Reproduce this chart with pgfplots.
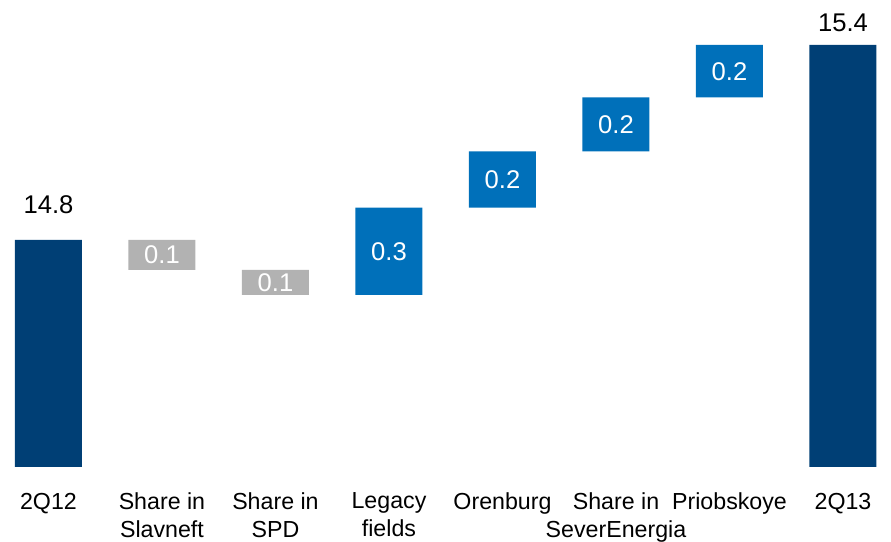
\documentclass[border=0pt]{standalone}
\usepackage{pgfplots}
\pgfplotsset{compat=1.18}
\usepackage{fontspec}
\setmainfont{Liberation Sans}
\definecolor{darkbar}{RGB}{0,63,117}
\definecolor{bluebar}{RGB}{0,112,186}
\definecolor{graybar}{RGB}{178,178,178}
\tikzset{vallab/.style={font=\fontsize{12.8bp}{14bp}\selectfont}}
\begin{document}
\begin{tikzpicture}
\begin{axis}[
  scale only axis,
  width=445.5bp, height=233.5bp,
  xmin=-0.427, xmax=7.423,
  ymin=14.102, ymax=15.538,
  ybar stacked, bar width=33.5bp,
  axis line style={draw=none},
  ytick=\empty,
  xtick={0,...,7},
  xticklabels={2Q12,{Share in\\Slavneft},{Share in\\SPD},{Legacy\\fields},Orenburg,{Share in\\SeverEnergia},Priobskoye,2Q13},
  major tick length=0pt,
  xticklabel style={align=center, font=\fontsize{11.6bp}{13.8bp}\selectfont, yshift=-9.5bp},
]
\addplot[draw=none, fill=white, fill opacity=0] coordinates {(0,0) (1,14.708) (2,14.631) (3,14.631) (4,14.899) (5,15.072) (6,15.238) (7,0)};
\addplot[draw=none, fill=darkbar] coordinates {(0,14.8) (1,0) (2,0) (3,0) (4,0) (5,0) (6,0) (7,15.4)};
\addplot[draw=none, fill=graybar] coordinates {(0,0) (1,0.092) (2,0.077) (3,0) (4,0) (5,0) (6,0) (7,0)};
\addplot[draw=none, fill=bluebar] coordinates {(0,0) (1,0) (2,0) (3,0.268) (4,0.173) (5,0.166) (6,0.162) (7,0)};
\coordinate (a0) at (axis cs:0,14.883);
\coordinate (a7) at (axis cs:7,15.441);
\coordinate (a1) at (axis cs:1,14.754);
\coordinate (a2) at (axis cs:2,14.670);
\coordinate (a3) at (axis cs:3,14.765);
\coordinate (a4) at (axis cs:4,14.986);
\coordinate (a5) at (axis cs:5,15.155);
\coordinate (a6) at (axis cs:6,15.318);
\end{axis}
\node[vallab, anchor=base] at (a0) {14.8};
\node[vallab, anchor=base] at (a7) {15.4};
\node[vallab, text=white] at (a1) {0.1};
\node[vallab, text=white] at (a2) {0.1};
\node[vallab, text=white] at (a3) {0.3};
\node[vallab, text=white] at (a4) {0.2};
\node[vallab, text=white] at (a5) {0.2};
\node[vallab, text=white] at (a6) {0.2};
\pgfresetboundingbox
\path[use as bounding box] (0,-37.5bp) rectangle (445.5bp,233.5bp);
\end{tikzpicture}
\end{document}
